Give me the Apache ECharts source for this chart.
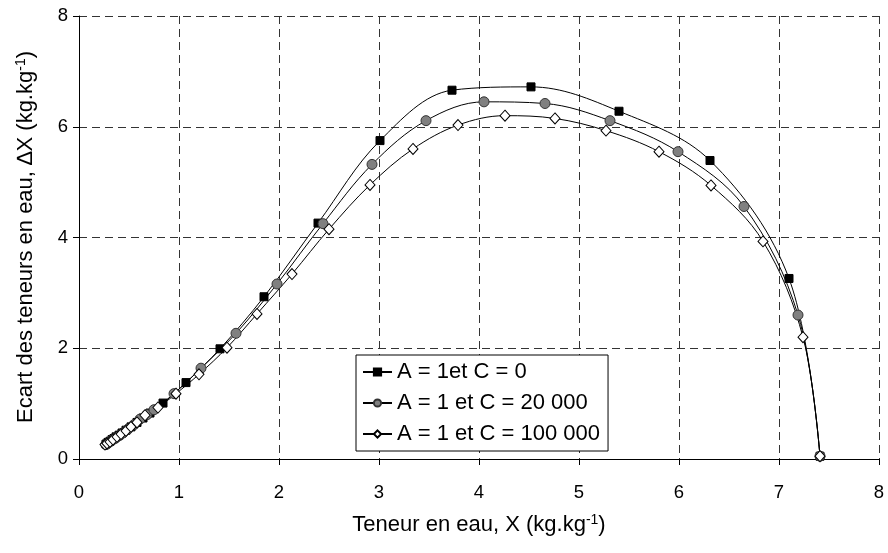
<!DOCTYPE html>
<html><head><meta charset="utf-8">
<script src="https://cdn.jsdelivr.net/npm/echarts@6/dist/echarts.min.js"></script>
<style>html,body{margin:0;padding:0;background:#fff}#c{width:888px;height:553px}</style>
</head><body><div id="c"></div>
<script>
var seriesNames = ['A = 1et C = 0', 'A = 1 et C = 20 000', 'A = 1 et C = 100 000'];
var xTicks = [0, 1, 2, 3, 4, 5, 6, 7, 8];
var yTicks = [0, 2, 4, 6, 8];

var xC0 = [0.27,0.29,0.31,0.33,0.35,0.37,0.40,0.43,0.47,0.52,0.58,0.64,0.71,0.84,1.07,1.41,1.85,2.39,3.01,3.73,4.52,5.40,6.31,7.10,7.41];
var yC0 = [0.27,0.30,0.32,0.35,0.37,0.40,0.43,0.47,0.52,0.58,0.66,0.74,0.83,1.01,1.38,1.99,2.93,4.26,5.75,6.66,6.72,6.28,5.39,3.26,0.05];

var xC20k = [0.27,0.30,0.33,0.36,0.40,0.44,0.49,0.55,0.61,0.68,0.75,0.95,1.22,1.57,1.98,2.44,2.93,3.47,4.05,4.66,5.31,5.99,6.65,7.19,7.41];
var yC20k = [0.26,0.30,0.34,0.37,0.42,0.47,0.54,0.62,0.72,0.80,0.89,1.18,1.64,2.27,3.16,4.25,5.32,6.11,6.45,6.42,6.11,5.55,4.56,2.60,0.05];

var xC100k = [0.26,0.28,0.31,0.34,0.38,0.42,0.47,0.52,0.58,0.66,0.79,0.97,1.20,1.48,1.78,2.13,2.50,2.91,3.34,3.79,4.26,4.76,5.27,5.80,6.32,6.84,7.24,7.41];
var yC100k = [0.26,0.28,0.31,0.35,0.40,0.45,0.51,0.58,0.66,0.79,0.93,1.18,1.53,2.01,2.62,3.34,4.15,4.95,5.60,6.03,6.20,6.15,5.93,5.55,4.94,3.93,2.20,0.05];

function pairs(xs, ys){ return xs.map(function(x,i){ return [x, ys[i]]; }); }

var FONT = 'Liberation Sans, Arial, sans-serif';
var chart = echarts.init(document.getElementById('c'));
var lineStyle = {color:'#000', width:1};
chart.setOption({
  animation:false,
  backgroundColor:'#fff',
  grid:{left:79, right:9, top:16, bottom:94, containLabel:false},
  xAxis:{type:'value', min:xTicks[0], max:xTicks[xTicks.length-1], interval:1,
    axisLine:{show:true, lineStyle:{color:'#000', width:1}},
    axisTick:{show:true, inside:false, length:6, lineStyle:{color:'#000'}},
    axisLabel:{color:'#000', fontFamily:FONT, fontSize:18.5, margin:24},
    splitLine:{show:true, lineStyle:{color:'#333', type:[8,5], width:1}}
  },
  yAxis:{type:'value', min:yTicks[0], max:yTicks[yTicks.length-1], interval:2,
    axisLine:{show:true, lineStyle:{color:'#000', width:1}},
    axisTick:{show:true, inside:false, length:6, lineStyle:{color:'#000'}},
    axisLabel:{color:'#000', fontFamily:FONT, fontSize:18.5, margin:11},
    splitLine:{show:true, lineStyle:{color:'#333', type:[8,5], width:1}}
  },
  legend:{
    orient:'vertical', left:356, top:355,
    backgroundColor:'#fff', borderColor:'#000', borderWidth:1, borderRadius:0,
    padding:[6,8,6,6], itemGap:9, itemWidth:29, itemHeight:9,
    textStyle:{color:'#000', fontFamily:FONT, fontSize:22},
    data:seriesNames
  },
  graphic:[
    {type:'text', x:479, y:525,
      style:{rich:{n:{fontFamily:FONT, fontSize:22, fill:'#000'}, s:{fontFamily:FONT, fontSize:14, fill:'#000', padding:[0,0,10,0]}},
        text:'{n|Teneur en eau, X (kg.kg}{s|-1}{n|)}', align:'center', verticalAlign:'middle'}},
    {type:'text', x:26, y:237, rotation:Math.PI/2,
      style:{rich:{n:{fontFamily:FONT, fontSize:22, fill:'#000'}, s:{fontFamily:FONT, fontSize:14, fill:'#000', padding:[0,0,10,0]}},
        text:'{n|Ecart des teneurs en eau, ∆X (kg.kg}{s|-1}{n|)}', align:'center', verticalAlign:'middle'}}
  ],
  series:[
    {name:seriesNames[0], type:'line', data:pairs(xC0,yC0), smooth:0.35,
      symbol:'rect', symbolSize:8, showAllSymbol:true,
      lineStyle:lineStyle, itemStyle:{color:'#000', borderColor:'#000', borderWidth:1}},
    {name:seriesNames[1], type:'line', data:pairs(xC20k,yC20k), smooth:0.35,
      symbol:'circle', symbolSize:10, showAllSymbol:true,
      lineStyle:lineStyle, itemStyle:{color:'#808080', borderColor:'#333', borderWidth:1}},
    {name:seriesNames[2], type:'line', data:pairs(xC100k,yC100k), smooth:0.35,
      symbol:'diamond', symbolSize:[10,11], showAllSymbol:true,
      lineStyle:lineStyle, itemStyle:{color:'#fff', borderColor:'#000', borderWidth:1}}
  ]
});
</script></body></html>
